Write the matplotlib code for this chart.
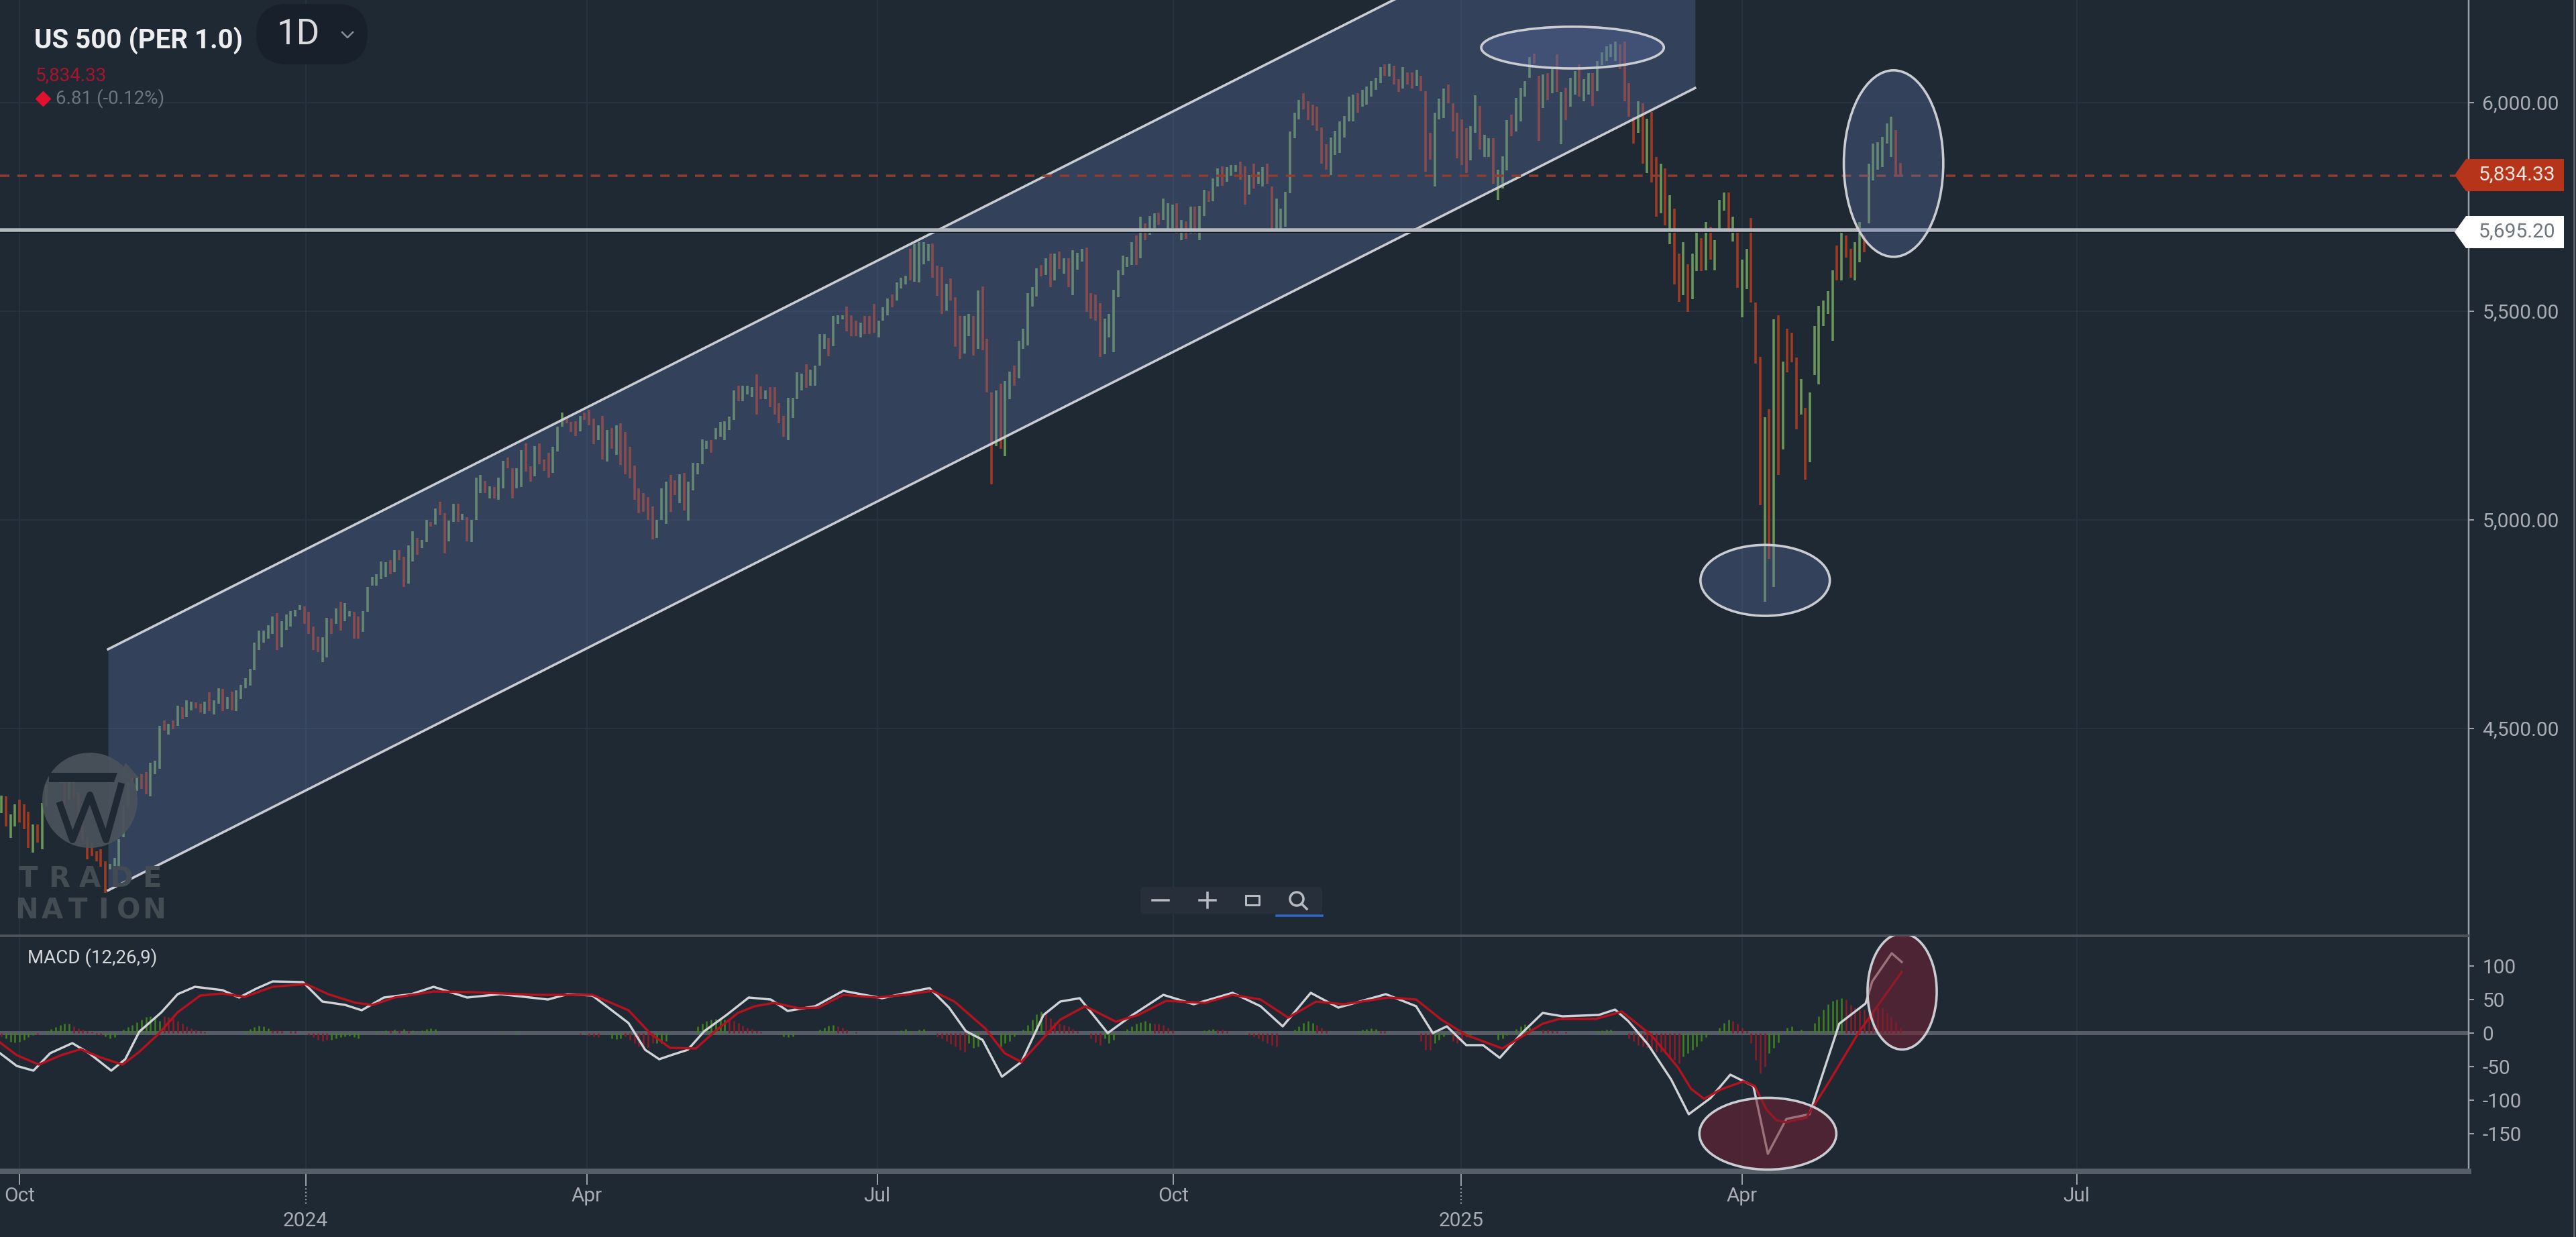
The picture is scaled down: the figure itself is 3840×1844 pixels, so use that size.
import matplotlib
matplotlib.use("Agg")
import matplotlib.pyplot as plt
from matplotlib.patches import Ellipse, Polygon, Circle, FancyBboxPatch

plt.rcParams['font.family'] = ['Roboto', 'DejaVu Sans']

# daily bars, first session sits four bars left of the Oct 2023 tick
first_session = -4
highs = [
    4340, 4337, 4294, 4318, 4329, 4318, 4300, 4270, 4270, 4321,
    4367, 4385, 4393, 4383, 4380, 4377, 4391, 4345, 4291, 4238,
    4227, 4206, 4211, 4182, 4176, 4190, 4235, 4317, 4372, 4383,
    4385, 4391, 4396, 4418, 4423, 4506, 4520, 4511, 4520, 4554,
    4552, 4568, 4565, 4562, 4560, 4565, 4587, 4568, 4597, 4595,
    4576, 4589, 4592, 4605, 4621, 4643, 4705, 4734, 4734, 4748,
    4769, 4777, 4758, 4774, 4782, 4785, 4796, 4793, 4780, 4745,
    4721, 4718, 4766, 4764, 4788, 4804, 4801, 4782, 4780, 4769,
    4782, 4839,
    4864, 4869, 4901, 4898, 4904, 4928, 4928, 4912, 4939, 4973,
    4957, 4952, 5000, 4995, 5027, 5043, 5016, 4998, 5038, 5038,
    5014, 5006, 5000, 5102, 5108, 5094, 5081, 5078, 5102, 5142,
    5150, 5124, 5124, 5167, 5183, 5129, 5177, 5183, 5145, 5161,
    5175, 5223, 5258, 5242, 5234, 5236, 5250, 5258, 5263, 5242,
    5226, 5250, 5215,
    5220, 5226, 5231, 5210, 5175, 5130, 5075, 5065, 5054, 5032,
    5000, 5075, 5091, 5107, 5095, 5110, 5113, 5091, 5137, 5137,
    5193, 5190, 5191, 5220, 5235, 5236, 5247, 5311, 5322, 5322,
    5322, 5318, 5349, 5320, 5311, 5319, 5319, 5279, 5250, 5293,
    5293, 5354, 5350, 5373, 5360, 5370, 5445, 5445, 5435, 5488,
    5490, 5490, 5512, 5490, 5478, 5472, 5488, 5488, 5518, 5478,
    5510, 5530, 5540, 5569, 5580, 5585, 5649, 5660, 5665, 5665,
    5660, 5663, 5609,
    5606, 5566, 5579, 5533, 5488, 5488, 5493, 5488, 5550, 5560,
    5434, 5306, 5311, 5327, 5332, 5356, 5370, 5429, 5458, 5544,
    5558, 5603, 5611, 5627, 5638, 5638, 5643, 5627, 5627, 5646,
    5640, 5649, 5652, 5544, 5541, 5520, 5483, 5493, 5552, 5598,
    5633, 5630, 5665, 5681, 5727, 5711, 5729, 5735, 5737, 5770,
    5759, 5755, 5759, 5719, 5716, 5751, 5751, 5753, 5791, 5788,
    5818, 5842, 5848, 5845, 5850, 5850, 5858, 5848, 5826, 5853,
    5835, 5845, 5853, 5799, 5770, 5746, 5786, 5931,
    5976, 6006, 6022, 6003, 5995, 5990, 5941, 5900, 5917, 5933,
    5955, 5968, 6014, 6019, 6022, 6030, 6038, 6051, 6060, 6086,
    6092, 6094, 6089, 6057, 6086, 6073, 6073, 6078, 6065, 6027,
    5928, 5976, 6010, 6033, 6043, 5998, 5976, 5960, 5939, 5944,
    6017, 5992, 5923, 5915, 5915, 5840, 5872, 5958, 5971, 6011,
    6035, 6051, 6110, 6118, 6065, 6068, 6070, 6081, 6116, 6025,
    6035, 6059, 6075, 6092, 6057, 6070, 6070, 6100, 6120, 6135,
    6140, 6147, 6140,
    6147, 6046, 5966, 6003, 5998, 5961, 5977, 5869, 5853, 5843,
    5778, 5746, 5639, 5666, 5612, 5639, 5698, 5676, 5714, 5703,
    5671, 5767, 5784, 5784, 5727, 5692, 5623, 5649, 5724, 5521,
    5391, 5246, 5265, 5480, 5490, 5380, 5458, 5448, 5389, 5338,
    5268, 5305, 5464, 5513, 5526, 5548, 5598, 5657, 5698, 5682,
    5649, 5666, 5714, 5682, 5853, 5902, 5905, 5918, 5950, 5966,
    5934, 5856,
]
lows = [
    4297, 4265, 4238, 4265, 4275, 4259, 4214, 4203, 4227, 4211,
    4313, 4369, 4372, 4369, 4308, 4329, 4334, 4265, 4232, 4187,
    4195, 4182, 4168, 4106, 4163, 4163, 4168, 4240, 4312, 4361,
    4350, 4356, 4342, 4337, 4391, 4404, 4495, 4485, 4498, 4506,
    4522, 4527, 4544, 4549, 4538, 4536, 4541, 4533, 4560, 4541,
    4546, 4544, 4541, 4570, 4597, 4603, 4640, 4688, 4705, 4715,
    4726, 4688, 4694, 4737, 4745, 4769, 4785, 4750, 4726, 4688,
    4683, 4659, 4670, 4726, 4750, 4734, 4758, 4769, 4715, 4715,
    4731, 4780,
    4842, 4842, 4858, 4863, 4869, 4874, 4904, 4839, 4847, 4901,
    4917, 4933, 4947, 4984, 4989, 5011, 4920, 4949, 4995, 4995,
    5000, 4949, 4947, 5000, 5065, 5065, 5051, 5051, 5048, 5075,
    5124, 5051, 5075, 5078, 5116, 5091, 5105, 5134, 5118, 5102,
    5113, 5164, 5223, 5231, 5210, 5201, 5212, 5239, 5226, 5182,
    5191, 5145, 5140,
    5170, 5156, 5132, 5110, 5100, 5048, 5016, 5020, 5000, 4953,
    4957, 5000, 4990, 5020, 5060, 5040, 5022, 4998, 5070, 5110,
    5134, 5170, 5161, 5193, 5200, 5191, 5215, 5239, 5285, 5285,
    5300, 5295, 5252, 5290, 5290, 5270, 5252, 5231, 5200, 5191,
    5244, 5290, 5310, 5317, 5322, 5322, 5370, 5410, 5392, 5416,
    5470, 5480, 5451, 5440, 5440, 5437, 5445, 5445, 5448, 5437,
    5478, 5490, 5510, 5526, 5555, 5565, 5574, 5570, 5569, 5612,
    5620, 5580, 5537,
    5493, 5501, 5525, 5415, 5386, 5399, 5440, 5394, 5410, 5407,
    5306, 5086, 5177, 5171, 5152, 5289, 5322, 5340, 5410, 5418,
    5512, 5536, 5584, 5587, 5558, 5574, 5601, 5590, 5558, 5539,
    5600, 5619, 5499, 5483, 5477, 5391, 5397, 5437, 5402, 5533,
    5587, 5606, 5611, 5611, 5627, 5670, 5684, 5700, 5708, 5719,
    5697, 5700, 5686, 5670, 5673, 5686, 5686, 5670, 5729, 5762,
    5764, 5799, 5800, 5810, 5825, 5835, 5815, 5756, 5780, 5794,
    5805, 5799, 5805, 5697, 5697, 5695, 5703, 5783,
    5915, 5960, 5984, 5958, 5945, 5933, 5853, 5840, 5826, 5874,
    5880, 5917, 5955, 5955, 5976, 5990, 5995, 6014, 6030, 6046,
    6065, 6062, 6043, 6025, 6033, 6043, 6033, 6041, 6027, 5834,
    5864, 5799, 5960, 5963, 5998, 5931, 5866, 5850, 5832, 5861,
    5928, 5888, 5869, 5870, 5805, 5767, 5794, 5837, 5920, 5931,
    5955, 6014, 6060, 6094, 5909, 5987, 6006, 6022, 6025, 5901,
    5958, 5990, 6020, 6014, 6003, 6020, 5992, 6027, 6090, 6100,
    6110, 6100, 6080,
    6003, 5966, 5902, 5928, 5853, 5832, 5808, 5727, 5735, 5706,
    5660, 5564, 5523, 5539, 5499, 5529, 5596, 5596, 5598, 5623,
    5598, 5690, 5741, 5692, 5668, 5556, 5486, 5553, 5521, 5375,
    5035, 4804, 4906, 4839, 5107, 5169, 5354, 5378, 5217, 5252,
    5096, 5139, 5348, 5325, 5464, 5494, 5429, 5574, 5574, 5628,
    5580, 5574, 5617, 5641, 5711, 5813, 5840, 5845, 5902, 5869,
    5824, 5826,
]
# g closes up, r closes down
bar_dir = (
    "grggrrrgrg" "ggrgrgrrrr" "rrrrgggggr" "grrgggrgrg" "rggrrgrggr"
    "grgggggggg" "grgggggrrr" "rggrgrggrr" "gg"
    "ggggrgrrgg" "rggrgrrggr" "grgggrgrgg" "rrggrrgrrr" "gggrrrgrrr" "grg"
    "rgrrrrrrrr" "gggrrgrggg" "ggrgggggrg" "ggrrgrrrrg" "gggrggggrg"
    "ggrrrgrrrg" "ggrgggrggg" "grr"
    "rgrrrggrgr" "rrgrggrggg" "ggrgrgrgrg" "ggrrrrgggg" "gggrgrggrg"
    "ggrgrgrggr" "ggrgggrrgr" "ggrrgggg"
    "ggrrrrrrgg" "ggggrggggg" "rgrrgrrgrr" "rgggrrrrrg" "grggrgggrg"
    "gggrrgrgrg" "rggrggrggg" "ggr"
    "rrrgrgrrgr" "grrgrggrgr" "gggrgrggrr" "rgrgrgrrrg" "rggggggrgr"
    "rggrgggggg" "rr"
)

channel_sessions = [19.6, 370.6]
channel_upper = [4690, 6611]
channel_lower = [4112, 6035]

support_level = 5695.2
last_price_line = 5825

price_ticks = [6000, 5500, 5000, 4500]
macd_ticks = [100, 50, 0, -50, -100, -150]

tick_sessions = [0, 63.3, 125.5, 189.7, 255.2, 318.9, 381, 455]
tick_labels = ['Oct', '2024', 'Apr', 'Jul', 'Oct', '2025', 'Apr', 'Jul']

macd_x = [-4.3, -0.6, 3.1, 6.8, 11.7, 15.4, 20.3, 23.4, 26.5, 31.4, 35, 38.8, 44.9, 48.6, 52.3, 56, 62.7, 67, 72, 75.7,
          80.6, 86.7, 91.6, 99, 106.4, 116.9, 121.2, 126.7, 131, 134.7, 138.4, 141.5,
          144.1, 147.8, 151.5, 156.4, 161.3, 166.2, 169.9, 176, 182.2, 190.8, 198.2, 201.3, 205.6, 209.3, 213, 217.3,
          221.6, 226.5, 230.2, 234.5, 240.7, 246.2, 253, 259.7, 268.3, 274.5, 279.4, 285.6, 291.7, 302.2, 308.9, 312.6,
          315.7, 320, 323.7, 327.4, 332.3, 336.9, 341.3, 349.3, 352.9, 355.8, 360.2, 365.3, 369.2, 374, 378.4, 383.5,
          386.7, 390.8, 395.9, 402.5, 408.3, 409.8, 414.1, 416.3]
macd_vals = [-30, -49, -56, -30, -15, -30, -56, -39, 2, 31, 58, 69, 64, 53, 66, 77, 76, 47, 42, 34,
             53, 58, 69, 53, 58, 50, 58, 56, 34, 15, -25, -39,
             -33, -25, 3, 27, 53, 50, 33, 40, 63, 52, 63, 67, 38, 3, -10, -65,
             -43, 27, 47, 52, 0, 27, 57, 43, 60, 40, 10, 60, 38, 58, 40, 0,
             10, -18, -18, -37, 0, 30, 25, 27, 35, 18, -17, -69, -121, -97, -62, -79,
             -180, -128, -121, 14, 44, 77, 119, 106]

signal_x = [-4.3, -0.6, 4.3, 9.2, 13.5, 17.8, 22.8, 26.5, 30.8, 35, 40, 44.9, 49.8, 56, 63.4, 68.3, 74.4, 78.1, 83, 91.6,
            100.3, 113.8, 126.7, 134.7, 139.6, 143.9,
            149.6, 153.9, 158.9, 162.6, 166.9, 172.4, 176.7, 182.2, 189.6, 195.8, 201.9, 206.8, 213.6, 217.9, 221.6,
            226.5, 230.2, 235.7, 242.5, 247.4, 253.6, 262.2, 268.3, 274.5, 280.6, 286.8, 292.9, 302.8, 308.9, 314.5,
            320, 328, 336.9, 340.5, 348.6, 354.4, 360.9, 366.8, 369.7, 372.6, 376.3, 381.3, 383.8, 386.4, 388.6, 390.8,
            395.2, 400.3, 406.8, 416.3]
signal_vals = [-14, -33, -47, -33, -24, -36, -47, -28, -1, 31, 56, 59, 54, 69, 73, 58, 45, 42, 53, 62,
               61, 57, 57, 34, -1, -22,
               -23, 3, 30, 40, 45, 37, 38, 57, 53, 57, 63, 47, 7, -30, -43,
               -7, 20, 40, 17, 27, 48, 45, 57, 50, 23, 47, 43, 53, 50, 20,
               -3, -23, 14, 21, 21, 32, -3, -51, -83, -98, -84, -72, -79, -114, -130, -133,
               -126, -72, 1, 91]

hist_green_x = [-3, -2, -1, 0, 1, 2, 3, 6, 7, 8, 9, 10, 11, 19, 20, 21, 23, 24, 25, 26, 27, 28, 29, 30, 31,
                50, 51, 52, 53, 54, 55, 69, 70, 71, 72, 73, 74, 75, 79, 81, 83, 85, 87, 89, 90, 91, 92,
                107, 110, 113, 131, 132, 133, 141, 142, 143, 150, 151, 152, 153, 154, 155, 156,
                169, 170, 171, 177, 178, 179, 180, 195, 196, 197, 199, 200, 210, 211, 212,
                217, 218, 219, 220, 222, 223, 224, 225, 226, 240, 241, 242, 244, 245, 246, 247, 248, 249, 250,
                262, 263, 264, 282, 283, 284, 285, 286, 296, 297, 298, 299, 300,
                313, 314, 315, 320, 321, 327, 328, 329, 331, 332, 333, 334, 349, 350, 351, 352,
                368, 369, 370, 371, 372, 373, 376, 377, 378, 387, 388, 389, 391, 392, 394,
                396, 397, 398, 399, 400, 401, 402, 403]
hist_green_v = [-8, -13, -14, -13, -10, -6, -3, 3, 6, 9, 12, 14, 14, -5, -8, -6, 5, 9, 12, 16, 20, 24, 25, 24, 18,
                3, 6, 9, 11, 10, 7, -10, -8, -6, -5, -4, -6, -8, 3, 4, 5, 6, 4, 4, 6, 7, 6,
                1, 2, 1, -8, -9, -8, -15, -15, -12, 10, 14, 18, 20, 21, 22, 20,
                -5, -6, -5, 5, 8, 11, 12, 4, 6, 3, 5, 6, -15, -22, -20,
                -20, -15, -12, -5, 5, 12, 20, 28, 32, -8, -15, -10, 3, 6, 10, 14, 16, 18, 15,
                4, 5, 6, 5, 10, 15, 18, 15, 3, 5, 6, 7, 6,
                -15, -10, -5, -5, -3, -10, -8, -3, 6, 10, 13, 8, 3, 4, 5, 5,
                -35, -30, -25, -20, -12, -6, 8, 15, 20, -30, -22, -14, 8, 10, 5,
                3, 15, 25, 35, 43, 48, 50, 52]
hist_red_x = [-4, 4, 12, 13, 14, 15, 16, 17, 18, 32, 33, 34, 35, 36, 37, 38, 39, 40, 41, 56, 57, 58, 60, 61,
              64, 65, 66, 67, 68, 82, 84, 86, 124, 126, 127, 128, 134, 135, 136, 137, 138, 139, 140,
              157, 158, 159, 160, 161, 162, 163, 164, 181, 182, 183, 185, 203, 204, 205, 206, 207, 208, 209,
              227, 228, 229, 230, 231, 232, 233, 234, 237, 238, 239, 251, 252, 253, 254, 255, 265, 266, 267,
              272, 273, 274, 275, 276, 277, 278, 287, 288, 289, 301, 302, 310, 311, 312, 317, 318, 319,
              337, 338, 339, 340, 342, 356, 357, 358, 359, 360, 361, 362, 363, 364, 365, 366, 367,
              379, 380, 381, 382, 383, 384, 385, 386, 404, 405, 406, 407, 408, 409, 410, 411, 412, 413, 414, 415, 416]
hist_red_v = [-5, -2, 10, 7, 5, 3, 2, -2, -3, 25, 24, 22, 18, 14, 10, 7, 5, 3, 2, 4, 4, 3, 3, 3,
              -3, -6, -10, -12, -10, 4, 4, 3, -2, -4, -5, -6, -5, -10, -15, -20, -24, -22, -15,
              22, 18, 15, 11, 8, 6, 4, 2, 10, 8, 5, 2, -5, -8, -12, -16, -20, -25, -28,
              28, 22, 16, 14, 12, 10, 6, 3, -8, -14, -18, 14, 14, 12, 8, 4, 5, 5, 3,
              -3, -5, -8, -12, -15, -18, -20, 12, 8, 4, 3, 3, -12, -25, -25, -12, -15, -12,
              5, 5, 4, 3, 2, -8, -12, -18, -20, -22, -24, -28, -28, -30, -35, -40, -45,
              18, 14, 8, 3, -15, -40, -60, -50, 50, 42, 38, 35, 35, 30, 32, 38, 38, 30, 24, 16, 8]

BG = '#1f2933'
GRID = '#263240'
GREEN = '#6a9659'
RED = '#a03a22'
TEXT = '#a9adb3'
FILL = '#5b70a8'
OUTLINE = '#c9ccd1'
PX = 0.72  # points per output pixel at dpi 100

fig = plt.figure(figsize=(38.4, 18.44), dpi=100, facecolor=BG)
price_ax = fig.add_axes([0, (1844 - 1395) / 1844, 3680 / 3840, 1395 / 1844], facecolor=BG)
macd_ax = fig.add_axes([0, (1844 - 1746) / 1844, 3680 / 3840, 351 / 1844], facecolor=BG)
ui = fig.add_axes([0, 0, 1, 1], facecolor='none', zorder=5)
ui.set_xlim(0, 3840)
ui.set_ylim(1844, 0)
ui.axis('off')

xlim = (-4.3, 541.7)

# price pane
n_bars = len(highs)
assert len(lows) == n_bars and len(bar_dir) == n_bars, (n_bars, len(lows), len(bar_dir))
sessions = [first_session + i for i in range(n_bars)]
colors = [GREEN if d == 'g' else RED for d in bar_dir]
price_ax.vlines(sessions, lows, highs, colors=colors, lw=3.6 * PX, zorder=3)

price_ax.fill_between(channel_sessions, channel_lower, channel_upper, color=FILL, alpha=0.35, lw=0, zorder=4)
price_ax.plot(channel_sessions, channel_upper, color=OUTLINE, lw=3.6 * PX, zorder=5)
price_ax.plot(channel_sessions, channel_lower, color=OUTLINE, lw=3.6 * PX, zorder=5)

price_ax.axhline(support_level - 5, color='#0f1721', lw=2 * PX, zorder=5)
price_ax.axhline(support_level, color='#b4b9c0', lw=5.5 * PX, zorder=5)
price_ax.axhline(last_price_line, color='#8f3d30', lw=3.5 * PX, dashes=(4, 3.4), zorder=5)

for centre, w, h in [((343.5, 6132), 40.4, 100), ((414.5, 5854), 22, 447), ((386.1, 4855), 28.6, 170)]:
    price_ax.add_patch(Ellipse(centre, w, h, facecolor=(0.357, 0.44, 0.66, 0.35), edgecolor=OUTLINE,
                               lw=3.6 * PX, zorder=6))

price_ax.set_xlim(xlim)
price_ax.set_ylim(4003.2, 6246)
price_ax.set_xticks(tick_sessions)
price_ax.tick_params(axis='x', length=0, labelbottom=False)
price_ax.yaxis.tick_right()
price_ax.set_yticks(price_ticks, [f"{v:,.2f}" for v in price_ticks])
price_ax.tick_params(axis='y', length=8 * PX, width=2 * PX, color='#9aa0a6', labelcolor=TEXT, labelsize=21.5, pad=9)
price_ax.grid(color=GRID, lw=2 * PX, zorder=1)
price_ax.set_axisbelow(True)
for name, spine in price_ax.spines.items():
    spine.set_visible(name == 'right')
price_ax.spines['right'].set_color('#9aa0a6')
price_ax.spines['right'].set_linewidth(2.5 * PX)

# macd pane
macd_ax.axhline(0, color='#565d66', lw=6 * PX, zorder=2)
macd_ax.vlines(hist_green_x, 0, hist_green_v, colors='#3f7d1e', lw=2.6 * PX, zorder=3)
macd_ax.vlines(hist_red_x, 0, hist_red_v, colors='#8a1c2b', lw=2.6 * PX, zorder=3)
macd_ax.plot(macd_x, macd_vals, color='#cfd2d6', lw=3.4 * PX, zorder=4)
macd_ax.plot(signal_x, signal_vals, color='#b5121f', lw=3.4 * PX, zorder=5)
for centre, w, h in [((386.7, -150), 30.3, 107), ((416.4, 62), 15.3, 173)]:
    macd_ax.add_patch(Ellipse(centre, w, h, facecolor=(0.45, 0.13, 0.2, 0.55), edgecolor=OUTLINE,
                              lw=3.6 * PX, zorder=6))

macd_ax.set_xlim(xlim)
macd_ax.set_ylim(-206, 145)
macd_ax.set_xticks(tick_sessions, tick_labels)
macd_ax.yaxis.tick_right()
macd_ax.set_yticks(macd_ticks, [str(v) for v in macd_ticks])
macd_ax.tick_params(axis='y', length=8 * PX, width=2 * PX, color='#9aa0a6', labelcolor=TEXT, labelsize=21.5, pad=9)
macd_ax.tick_params(axis='x', length=20 * PX, width=2 * PX, color='#9aa0a6', labelcolor=TEXT, labelsize=21.5)
for tick, lab in zip(macd_ax.xaxis.get_major_ticks(), tick_labels):
    tick.set_pad(29 if lab.isdigit() else 2)
    if lab.isdigit():
        macd_ax.vlines(tick.get_loc(), -226, -256, colors='#9aa0a6', lw=2 * PX, linestyles=':', clip_on=False)
macd_ax.grid(axis='x', color=GRID, lw=2 * PX, zorder=1)
macd_ax.set_axisbelow(True)
macd_ax.spines['left'].set_visible(False)
macd_ax.spines['top'].set_color('#4c525a')
macd_ax.spines['top'].set_linewidth(4 * PX)
macd_ax.spines['bottom'].set_color('#565e68')
macd_ax.spines['bottom'].set_linewidth(8 * PX)
macd_ax.spines['right'].set_color('#9aa0a6')
macd_ax.spines['right'].set_linewidth(2.5 * PX)

# header
narrow = ['Liberation Sans Narrow', 'Roboto']
ui.text(51, 60, "US 500 (PER 1.0)", color='#eceef0', fontsize=29, fontweight='bold', family=narrow, va='center')
ui.add_patch(FancyBboxPatch((390, 14), 150, 74, boxstyle="round,pad=0,rounding_size=37", facecolor='#18202b',
                            edgecolor='#18202b', lw=16 * PX))
ui.text(413, 52, "1D", color='#d8dade', fontsize=38, family=narrow, va='center')
ui.plot([510, 518, 526], [48, 56, 48], color='#8a9098', lw=2.5 * PX)
ui.text(53, 113, "5,834.33", color='#a8142c', fontsize=20, va='center')
ui.plot([64], [147], marker='D', ms=11, color='#e0102f')
ui.text(83, 147, "6.81 (-0.12%)", color='#6b7480', fontsize=20, va='center')
ui.text(41, 1428, "MACD (12,26,9)", color='#d5d8db', fontsize=20, va='center')

# price tags
ui.add_patch(Polygon([(3659, 261), (3676, 237), (3822, 237), (3822, 285), (3676, 285)], facecolor='#b5341a', lw=0))
ui.text(3695, 261, "5,834.33", color='#f3e4de', fontsize=21.5, va='center')
ui.add_patch(Polygon([(3659, 346), (3676, 322), (3822, 322), (3822, 370), (3676, 370)], facecolor='#ffffff', lw=0))
ui.text(3695, 346, "5,695.20", color='#6f757c', fontsize=21.5, va='center')
ui.plot([3837, 3837], [0, 1844], color='#5a6068', lw=3 * PX)

# zoom toolbar
ui.add_patch(FancyBboxPatch((1700, 1322), 271, 40, boxstyle="round,pad=0,rounding_size=6", facecolor='#262f3a', lw=0))
ui.plot([1718, 1742], [1342, 1342], color='#b8bcc2', lw=3.5 * PX)
ui.plot([1788, 1812], [1342, 1342], color='#b8bcc2', lw=3.5 * PX)
ui.plot([1800, 1800], [1331, 1353], color='#b8bcc2', lw=3.5 * PX)
ui.plot([1857, 1877, 1877, 1857, 1857], [1335, 1335, 1349, 1349, 1335], color='#b8bcc2', lw=3 * PX)
ui.add_patch(Circle((1933, 1340), 10, facecolor='none', edgecolor='#b8bcc2', lw=3.5 * PX))
ui.plot([1940, 1948], [1347, 1355], color='#b8bcc2', lw=3.5 * PX)
ui.plot([1903, 1971], [1365, 1365], color='#3366cc', lw=3.5 * PX)

# watermark
ui.add_patch(Circle((134, 1193), 71, facecolor='#4a525b', lw=0, alpha=0.93))
ui.add_patch(Polygon([(187, 1137), (208, 1160), (178, 1160)], facecolor='#4a525b', lw=0, alpha=0.93))
ui.add_patch(Polygon([(73, 1152), (175, 1152), (170, 1166), (73, 1166)], facecolor='#1f2933', lw=0))
ui.plot([90, 108, 134, 158, 180], [1200, 1252, 1185, 1252, 1172], color='#1f2933', lw=10 * PX)
for word, y, x0, step in [("TRADE", 1310, 42, 46), ("NATION", 1357, 40, 38)]:
    for k, ch in enumerate(word):
        ui.text(x0 + k * step, y, ch, color='#434b53', fontsize=30, fontweight='bold', family='DejaVu Sans',
                ha='center', va='center')

fig.savefig('out.png', dpi=100, facecolor=BG)
